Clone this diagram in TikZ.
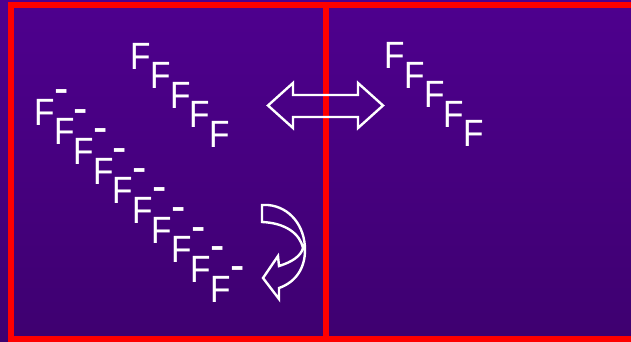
\documentclass[tikz,border=0pt]{standalone}
\usepackage{fontspec}
\setmainfont{Liberation Sans}[FakeStretch=0.88]
\definecolor{bgtop}{RGB}{78,0,142}
\definecolor{bgbot}{RGB}{62,0,112}
\definecolor{framered}{RGB}{255,0,0}
\tikzset{
  fchar/.style={font=\fontsize{38}{38}\selectfont, text=white, inner sep=0pt, anchor=base west},
  outlinearrow/.style={draw=white, line width=2.4pt, line join=miter},
  frameline/.style={draw=framered, line width=6pt}
}
\newcommand{\Fminus}{F\kern-0.6pt\raisebox{20.5pt}{\fontsize{49}{49}\selectfont -}}
\begin{document}
\begin{tikzpicture}[x=1pt,y=-1pt]
\useasboundingbox (0,0) rectangle (631,341);
\shade[top color=bgtop, bottom color=bgbot] (0,0) rectangle (631,341);
% frame
\draw[frameline] (11,4.5) rectangle (645,338.5);
\draw[frameline] (326,4.5) -- (326,338.5);
% upper-left F chain
\foreach \i in {0,...,4}
  \node[fchar] (u\i) at ({130.3+19.75*\i},{69+19.5*\i}) {F};
% right F chain
\foreach \i in {0,...,4}
  \node[fchar] (r\i) at ({384.3+19.75*\i},{68.5+19.5*\i}) {F};
% F- chain
\foreach \i in {0,...,9}
  \node[fchar] (m\i) at ({34.3+19.55*\i},{125+19.67*\i}) {\Fminus};
% double arrow
\draw[outlinearrow] (268,105.5) -- (293,83) -- (293,95) -- (358,95) -- (358,83)
  -- (383,105.5) -- (358,128) -- (358,117) -- (293,117) -- (293,128) -- cycle;
% curved arrow
\draw[outlinearrow] (262,205) -- (268,205)
  .. controls (290,207) and (305,226) .. (305,250)
  .. controls (305,268) and (296,282) .. (279,288)
  -- (279,299) -- (263,278) -- (278,256) -- (279,266)
  .. controls (292,262) and (301,256) .. (303,248)
  .. controls (300,234) and (286,223) .. (262,222)
  -- cycle;
\end{tikzpicture}
\end{document}
